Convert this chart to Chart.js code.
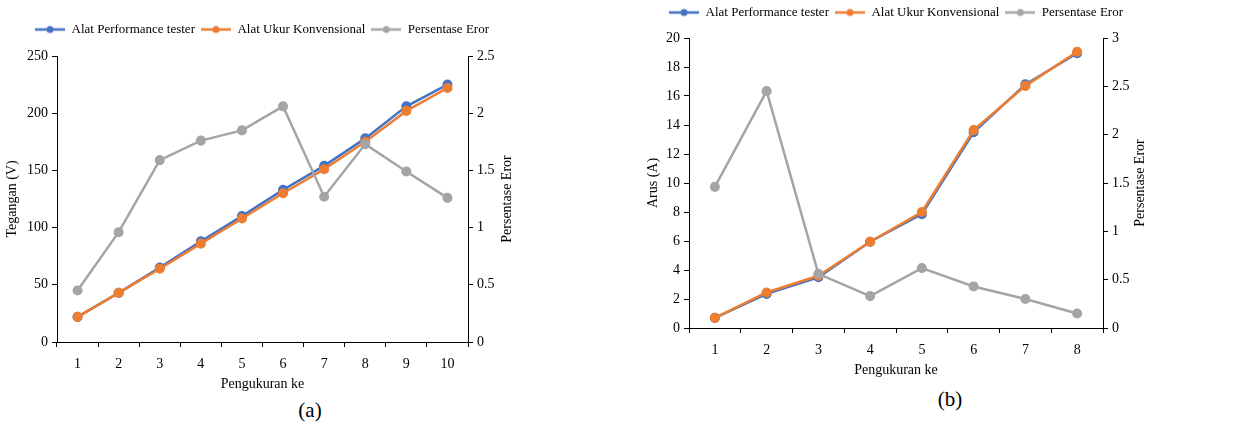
<!DOCTYPE html>
<html>
<head>
<meta charset="utf-8">
<script src="https://cdn.jsdelivr.net/npm/chart.js@4.4.1/dist/chart.umd.min.js"></script>
<style>
  body { margin: 0; background: #fff; width: 1254px; height: 427px; position: relative; overflow: hidden; }
  .box { position: absolute; top: 0; }
  .caption { position: absolute; font-family: "Liberation Serif", "Times New Roman", serif; font-size: 21px; color: #000; transform: translateX(-50%); }
</style>
</head>
<body>
<div class="box" style="left:4px;width:516px;height:397px"><canvas id="chartA"></canvas></div>
<div class="box" style="left:645px;width:502px;height:383px"><canvas id="chartB"></canvas></div>
<div class="caption" style="left:310px;top:398px">(a)</div>
<div class="caption" style="left:950px;top:387px">(b)</div>
<script>
// data (a) - tegangan
const labelsA = ["1", "2", "3", "4", "5", "6", "7", "8", "9", "10"];
const testerA = [22, 43, 65, 88, 110, 133, 154, 178, 206, 225];
const konvensionalA = [22, 43, 64, 86, 108, 130, 151, 175, 202, 222];
const erorA = [0.45, 0.96, 1.59, 1.76, 1.85, 2.06, 1.27, 1.73, 1.49, 1.26];

// data (b) - arus
const labelsB = ["1", "2", "3", "4", "5", "6", "7", "8"];
const testerB = [0.7, 2.35, 3.5, 5.95, 7.85, 13.5, 16.8, 18.95];
const konvensionalB = [0.7, 2.45, 3.6, 5.95, 8.0, 13.65, 16.7, 19.05];
const erorB = [1.46, 2.45, 0.56, 0.33, 0.62, 0.43, 0.30, 0.15];

const BLUE = "#4472C4";
const ORANGE = "#ED7D31";
const GREY = "#A5A5A5";
const FONT = "'Liberation Serif', 'Times New Roman', serif";

// legend marker: line with a dot in the middle
function legendMark(color) {
  const c = document.createElement("canvas");
  c.width = 30; c.height = 10;
  const x = c.getContext("2d");
  x.strokeStyle = color; x.lineWidth = 2.5;
  x.beginPath(); x.moveTo(0, 5); x.lineTo(30, 5); x.stroke();
  x.fillStyle = color;
  x.beginPath(); x.arc(15, 5, 3.5, 0, Math.PI * 2); x.fill();
  return c;
}
const marks = [legendMark(BLUE), legendMark(ORANGE), legendMark(GREY)];

// right axis title reads bottom-to-top, so draw it by hand
const rightTitle = {
  id: "rightTitle",
  afterDraw(chart, args, opts) {
    const s = chart.scales.y1;
    const ctx = chart.ctx;
    ctx.save();
    ctx.translate(s.right - opts.offset, (s.top + s.bottom) / 2);
    ctx.rotate(-Math.PI / 2);
    ctx.font = "14px " + FONT;
    ctx.fillStyle = "#000";
    ctx.textAlign = "center";
    ctx.textBaseline = "middle";
    ctx.fillText(opts.text, 0, 0);
    ctx.restore();
  }
};

// extra space under the legend
const legendGap = {
  id: "legendGap",
  afterInit(chart, args, opts) {
    const fit = chart.legend.fit;
    chart.legend.fit = function () {
      fit.call(this);
      this.height += opts.extra;
    };
  }
};

// order: grey drawn on top, then orange, blue underneath
function series(label, data, color, axis, order) {
  return {
    label: label,
    data: data,
    yAxisID: axis,
    order: order,
    borderColor: color,
    backgroundColor: color,
    borderWidth: 2.5,
    pointRadius: 3.8,
    pointHoverRadius: 3.8,
    tension: 0
  };
}

function makeChart(canvas, cfg) {
  return new Chart(canvas, {
    type: "line",
    data: {
      labels: cfg.labels,
      datasets: [
        series("Alat Performance tester", cfg.tester, BLUE, "y", 2),
        series("Alat Ukur Konvensional", cfg.konvensional, ORANGE, "y", 1),
        series("Persentase Eror", cfg.eror, GREY, "y1", 0)
      ]
    },
    plugins: [rightTitle, legendGap],
    options: {
      responsive: true,
      maintainAspectRatio: false,
      animation: false,
      layout: { padding: { top: cfg.padTop, left: 0, right: 0, bottom: 0 } },
      plugins: {
        tooltip: { enabled: false },
        rightTitle: { text: "Persentase Eror", offset: cfg.titleOffset },
        legendGap: { extra: cfg.legendExtra },
        legend: {
          labels: {
            color: "#000",
            font: { family: FONT, size: 13 },
            usePointStyle: true,
            pointStyleWidth: 30,
            boxHeight: 10,
            padding: 6,
            generateLabels(chart) {
              const items = Chart.defaults.plugins.legend.labels.generateLabels(chart);
              items.sort((a, b) => a.datasetIndex - b.datasetIndex);
              items.forEach(it => { it.pointStyle = marks[it.datasetIndex]; });
              return items;
            }
          }
        }
      },
      scales: {
        x: {
          offset: true,
          border: { color: "#000", width: 1 },
          grid: { offset: true, drawOnChartArea: false, color: "#000", tickLength: 5 },
          ticks: { color: "#000", font: { family: FONT, size: 14 }, padding: 9 },
          title: { display: true, text: "Pengukuran ke", color: "#000", font: { family: FONT, size: 14 }, padding: { top: 7 } },
          afterFit(s) { s.height = 55; }
        },
        y: {
          position: "left",
          min: 0, max: cfg.yMax,
          border: { color: "#000", width: 1 },
          grid: { drawOnChartArea: false, color: "#000", tickLength: 5 },
          ticks: { stepSize: cfg.yStep, color: "#000", font: { family: FONT, size: 14 }, padding: 4 },
          title: { display: true, text: cfg.yTitle, color: "#000", font: { family: FONT, size: 14 }, padding: 0 },
          afterFit(s) { s.width = cfg.leftWidth; }
        },
        y1: {
          position: "right",
          min: 0, max: cfg.y1Max,
          border: { color: "#000", width: 1 },
          grid: { drawOnChartArea: false, color: "#000", tickLength: 5 },
          ticks: {
            stepSize: 0.5, color: "#000", font: { family: FONT, size: 14 }, padding: 4,
            callback: v => String(+v.toFixed(1))
          },
          afterFit(s) { s.width = cfg.rightWidth; }
        }
      }
    }
  });
}

makeChart(document.getElementById("chartA"), {
  labels: labelsA, tester: testerA, konvensional: konvensionalA, eror: erorA,
  yTitle: "Tegangan (V)", yMax: 250, yStep: 50, y1Max: 2.5,
  leftWidth: 53, rightWidth: 52, padTop: 17, titleOffset: 13, legendExtra: 10
});

makeChart(document.getElementById("chartB"), {
  labels: labelsB, tester: testerB, konvensional: konvensionalB, eror: erorB,
  yTitle: "Arus (A)", yMax: 20, yStep: 2, y1Max: 3,
  leftWidth: 44, rightWidth: 44, padTop: 0, titleOffset: 7, legendExtra: 9
});
</script>
</body>
</html>
